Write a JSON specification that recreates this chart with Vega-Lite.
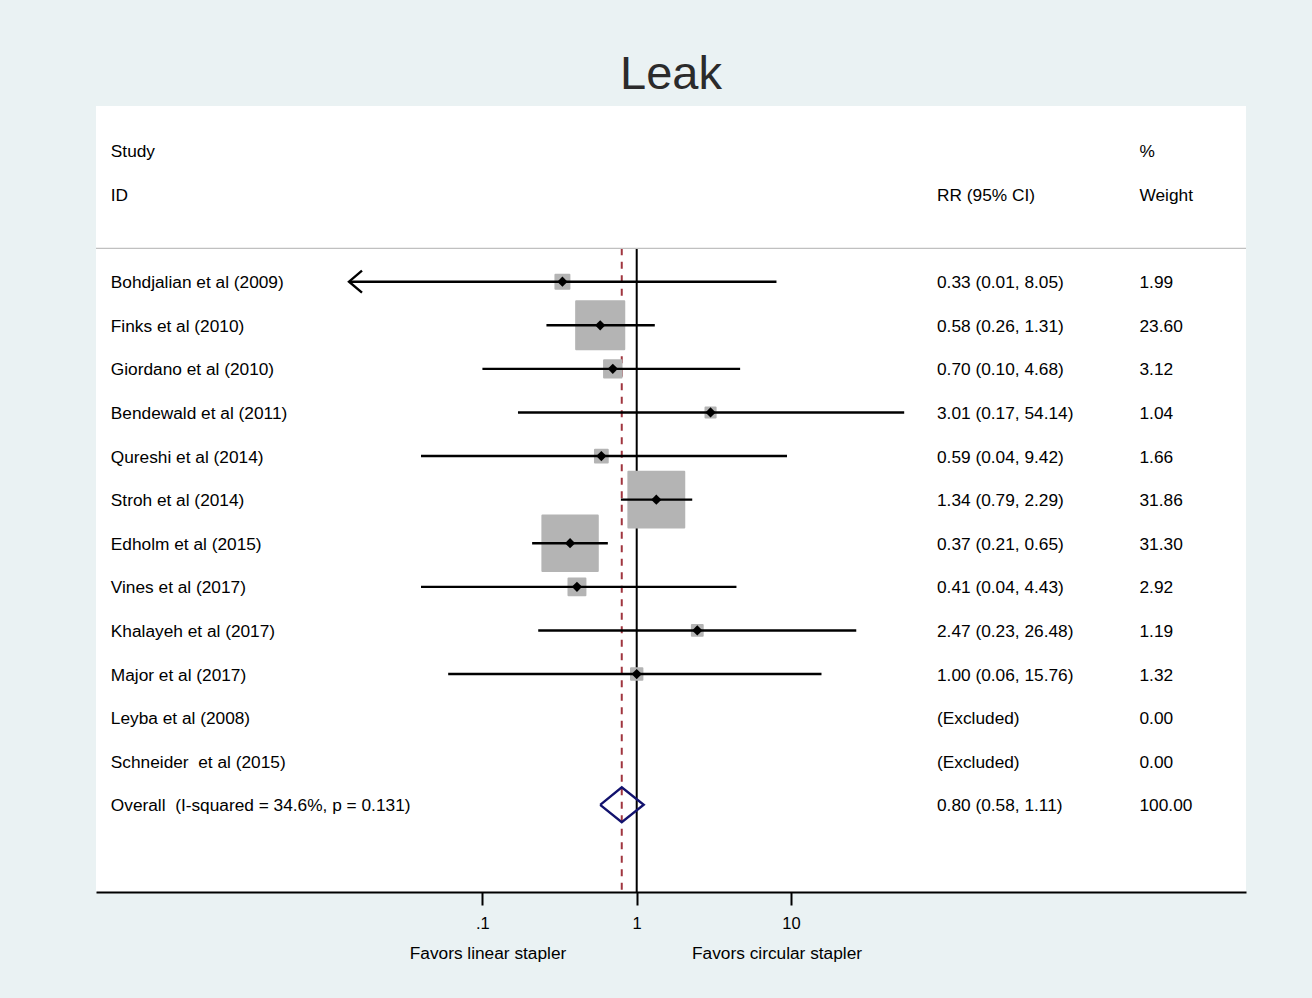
{
  "$schema": "https://vega.github.io/schema/vega-lite/v6.json",
  "width": 1150,
  "height": 786,
  "autosize": {"type": "none"},
  "padding": {"left": 96, "top": 106, "right": 66, "bottom": 106},
  "background": "#eaf2f3",
  "config": {
    "view": {"fill": "white", "stroke": null},
    "font": "Liberation Sans",
    "text": {"font": "Liberation Sans", "fontSize": 17.3, "color": "#000000", "dy": 1.5}
  },
  "title": {
    "text": "Leak",
    "fontSize": 47,
    "font": "Liberation Sans",
    "fontWeight": "normal",
    "color": "#2b2b2b",
    "anchor": "middle",
    "baseline": "alphabetic",
    "offset": 16,
    "dy": 46
  },
  "datasets": {
    "studies": [
      {"row": 1, "study": "Bohdjalian et al (2009)", "est": 0.33, "lo": 0.01, "hi": 8.05, "ci": "0.33 (0.01, 8.05)", "wt": "1.99", "w": 1.99},
      {"row": 2, "study": "Finks et al (2010)", "est": 0.58, "lo": 0.26, "hi": 1.31, "ci": "0.58 (0.26, 1.31)", "wt": "23.60", "w": 23.60},
      {"row": 3, "study": "Giordano et al (2010)", "est": 0.70, "lo": 0.10, "hi": 4.68, "ci": "0.70 (0.10, 4.68)", "wt": "3.12", "w": 3.12},
      {"row": 4, "study": "Bendewald et al (2011)", "est": 3.01, "lo": 0.17, "hi": 54.14, "ci": "3.01 (0.17, 54.14)", "wt": "1.04", "w": 1.04},
      {"row": 5, "study": "Qureshi et al (2014)", "est": 0.59, "lo": 0.04, "hi": 9.42, "ci": "0.59 (0.04, 9.42)", "wt": "1.66", "w": 1.66},
      {"row": 6, "study": "Stroh et al (2014)", "est": 1.34, "lo": 0.79, "hi": 2.29, "ci": "1.34 (0.79, 2.29)", "wt": "31.86", "w": 31.86},
      {"row": 7, "study": "Edholm et al (2015)", "est": 0.37, "lo": 0.21, "hi": 0.65, "ci": "0.37 (0.21, 0.65)", "wt": "31.30", "w": 31.30},
      {"row": 8, "study": "Vines et al (2017)", "est": 0.41, "lo": 0.04, "hi": 4.43, "ci": "0.41 (0.04, 4.43)", "wt": "2.92", "w": 2.92},
      {"row": 9, "study": "Khalayeh et al (2017)", "est": 2.47, "lo": 0.23, "hi": 26.48, "ci": "2.47 (0.23, 26.48)", "wt": "1.19", "w": 1.19},
      {"row": 10, "study": "Major et al (2017)", "est": 1.00, "lo": 0.06, "hi": 15.76, "ci": "1.00 (0.06, 15.76)", "wt": "1.32", "w": 1.32},
      {"row": 11, "study": "Leyba et al (2008)", "est": null, "lo": null, "hi": null, "ci": "(Excluded)", "wt": "0.00", "w": 0},
      {"row": 12, "study": "Schneider \u00a0et al (2015)", "est": null, "lo": null, "hi": null, "ci": "(Excluded)", "wt": "0.00", "w": 0},
      {"row": 13, "study": "Overall \u00a0(I-squared = 34.6%, p = 0.131)", "est": null, "lo": null, "hi": null, "ci": "0.80 (0.58, 1.11)", "wt": "100.00", "w": null}
    ],
    "truncated": [
      {"row": 1, "from": 0.01366, "to": 8.05}
    ],
    "refs": [
      {"x": 1, "kind": "null", "top": 0.234, "bottom": 15},
      {"x": 0.80, "kind": "pooled", "top": 0.234, "bottom": 15}
    ],
    "headers": [
      {"row": -2, "col": "study", "label": "Study"},
      {"row": -1, "col": "study", "label": "ID"},
      {"row": -1, "col": "rr", "label": "RR (95% CI)"},
      {"row": -2, "col": "wt", "label": "%"},
      {"row": -1, "col": "wt", "label": "Weight"}
    ],
    "pooled": [
      {"x": 0.58, "y": 13, "i": 0},
      {"x": 0.80, "y": 12.6, "i": 1},
      {"x": 1.11, "y": 13, "i": 2},
      {"x": 0.80, "y": 13.4, "i": 3},
      {"x": 0.58, "y": 13, "i": 4}
    ],
    "favors": [
      {"x": 0.1087, "y": 16.38, "label": "Favors linear stapler"},
      {"x": 8.116, "y": 16.38, "label": "Favors circular stapler"}
    ]
  },
  "layer": [
    {
      "data": {"name": "refs"},
      "transform": [{"filter": "datum.kind == 'null'"}],
      "mark": {"type": "rule", "color": "#000000", "strokeWidth": 2},
      "encoding": {
        "x": {
          "field": "x",
          "type": "quantitative",
          "scale": {"type": "log", "domain": [0.0003131, 8888], "nice": false},
          "axis": {
            "values": [0.1, 1, 10],
            "labelExpr": "datum.value < 0.5 ? '.1' : (datum.value < 5 ? '1' : '10')",
            "grid": false,
            "title": null,
            "domainColor": "#000000",
            "domainWidth": 2,
            "tickColor": "#000000",
            "tickWidth": 2,
            "tickSize": 13,
            "labelFont": "Liberation Sans",
            "labelFontSize": 16.5,
            "labelColor": "#000000",
            "labelPadding": 10,
            "labelFlush": false,
            "labelOverlap": false
          }
        },
        "y": {"field": "top", "type": "quantitative", "scale": {"domain": [-3.03, 15], "reverse": true, "nice": false, "zero": false}, "axis": null},
        "y2": {"field": "bottom"}
      }
    },
    {
      "data": {"name": "refs"},
      "transform": [{"filter": "datum.kind == 'pooled'"}],
      "mark": {"type": "rule", "color": "#a0353f", "strokeWidth": 2, "strokeDash": [7, 6.5]},
      "encoding": {
        "x": {"field": "x", "type": "quantitative"},
        "y": {"field": "top", "type": "quantitative"},
        "y2": {"field": "bottom"}
      }
    },
    {
      "data": {"values": [{"sep": 0.234}]},
      "mark": {"type": "rule", "color": "#c0c0c0", "strokeWidth": 1.3},
      "encoding": {
        "y": {"field": "sep", "type": "quantitative"}
      }
    },
    {
      "data": {"name": "studies"},
      "transform": [{"filter": "isValid(datum.est) && datum.w > 0"}],
      "mark": {"type": "square", "color": "#b4b4b4", "stroke": "#b4b4b4", "strokeWidth": 2, "strokeJoin": "round", "opacity": 1},
      "encoding": {
        "x": {"field": "est", "type": "quantitative"},
        "y": {"field": "row", "type": "quantitative"},
        "size": {"field": "w", "type": "quantitative", "scale": {"type": "linear", "domain": [0, 100], "range": [0, 9800]}, "legend": null}
      }
    },
    {
      "data": {"name": "studies"},
      "transform": [{"filter": "isValid(datum.lo) && datum.lo >= 0.0137"}],
      "mark": {"type": "rule", "color": "#000000", "strokeWidth": 2.4},
      "encoding": {
        "x": {"field": "lo", "type": "quantitative"},
        "x2": {"field": "hi"},
        "y": {"field": "row", "type": "quantitative"}
      }
    },
    {
      "data": {"name": "truncated"},
      "mark": {"type": "rule", "color": "#000000", "strokeWidth": 2.4},
      "encoding": {
        "x": {"field": "from", "type": "quantitative"},
        "x2": {"field": "to"},
        "y": {"field": "row", "type": "quantitative"}
      }
    },
    {
      "data": {"name": "truncated"},
      "mark": {"type": "point", "shape": "M 1.18 -1 L 0 0 L 1.18 1", "filled": false, "stroke": "#000000", "strokeWidth": 2.4, "size": 484, "opacity": 1},
      "encoding": {
        "x": {"field": "from", "type": "quantitative"},
        "y": {"field": "row", "type": "quantitative"}
      }
    },
    {
      "data": {"name": "studies"},
      "transform": [{"filter": "isValid(datum.est)"}],
      "mark": {"type": "point", "shape": "diamond", "filled": true, "color": "#000000", "size": 105, "opacity": 1},
      "encoding": {
        "x": {"field": "est", "type": "quantitative"},
        "y": {"field": "row", "type": "quantitative"}
      }
    },
    {
      "data": {"name": "pooled"},
      "mark": {"type": "line", "color": "#12126e", "strokeWidth": 2.4, "strokeJoin": "miter"},
      "encoding": {
        "x": {"field": "x", "type": "quantitative"},
        "y": {"field": "y", "type": "quantitative"},
        "order": {"field": "i", "type": "quantitative"}
      }
    },
    {
      "data": {"name": "studies"},
      "mark": {"type": "text", "align": "left", "baseline": "middle"},
      "encoding": {
        "x": {"datum": 0.0003905, "type": "quantitative"},
        "y": {"field": "row", "type": "quantitative"},
        "text": {"field": "study"}
      }
    },
    {
      "data": {"name": "studies"},
      "mark": {"type": "text", "align": "left", "baseline": "middle"},
      "encoding": {
        "x": {"datum": 88.35, "type": "quantitative"},
        "y": {"field": "row", "type": "quantitative"},
        "text": {"field": "ci"}
      }
    },
    {
      "data": {"name": "studies"},
      "mark": {"type": "text", "align": "left", "baseline": "middle"},
      "encoding": {
        "x": {"datum": 1814, "type": "quantitative"},
        "y": {"field": "row", "type": "quantitative"},
        "text": {"field": "wt"}
      }
    },
    {
      "data": {"name": "headers"},
      "transform": [{"filter": "datum.col == 'study'"}],
      "mark": {"type": "text", "align": "left", "baseline": "middle"},
      "encoding": {
        "x": {"datum": 0.0003905, "type": "quantitative"},
        "y": {"field": "row", "type": "quantitative"},
        "text": {"field": "label"}
      }
    },
    {
      "data": {"name": "headers"},
      "transform": [{"filter": "datum.col == 'rr'"}],
      "mark": {"type": "text", "align": "left", "baseline": "middle"},
      "encoding": {
        "x": {"datum": 88.35, "type": "quantitative"},
        "y": {"field": "row", "type": "quantitative"},
        "text": {"field": "label"}
      }
    },
    {
      "data": {"name": "headers"},
      "transform": [{"filter": "datum.col == 'wt'"}],
      "mark": {"type": "text", "align": "left", "baseline": "middle"},
      "encoding": {
        "x": {"datum": 1814, "type": "quantitative"},
        "y": {"field": "row", "type": "quantitative"},
        "text": {"field": "label"}
      }
    },
    {
      "data": {"name": "favors"},
      "mark": {"type": "text", "align": "center", "baseline": "middle"},
      "encoding": {
        "x": {"field": "x", "type": "quantitative"},
        "y": {"field": "y", "type": "quantitative"},
        "text": {"field": "label"}
      }
    }
  ]
}
